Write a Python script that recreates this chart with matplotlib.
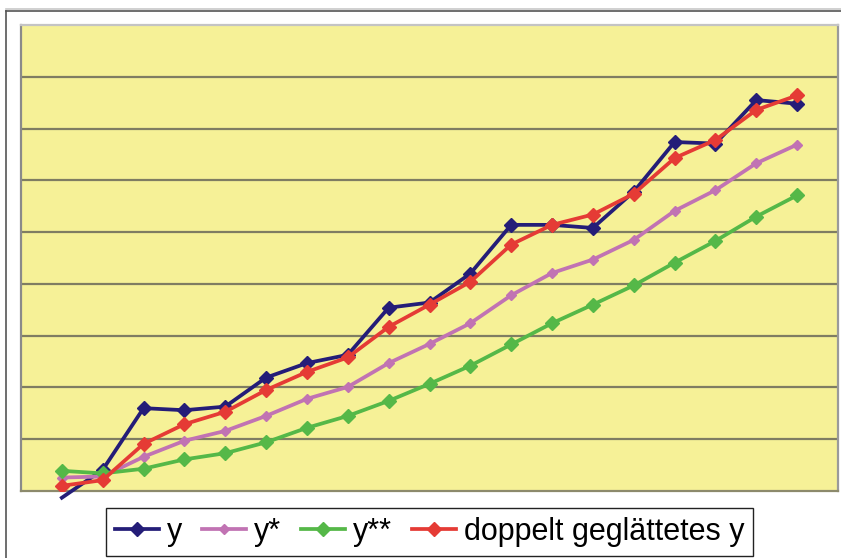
import matplotlib
matplotlib.use("Agg")
import matplotlib.pyplot as plt
from matplotlib.lines import Line2D
import numpy as np

# Periods and series values
periods = list(range(1, 20))
y = [-1.3, 4.1, 16.0, 15.6, 16.3, 21.9, 24.7, 26.3, 35.4, 36.4,
     42.0, 51.4, 51.4, 50.8, 57.8, 67.4, 67.1, 75.5, 74.8]
y_star = [2.6, 2.8, 6.6, 9.7, 11.6, 14.5, 17.8, 20.1, 24.7, 28.4,
          32.4, 37.8, 42.1, 44.7, 48.5, 54.1, 58.1, 63.3, 66.9]
y_2star = [3.9, 3.4, 4.3, 6.1, 7.3, 9.4, 12.2, 14.5, 17.4, 20.7,
           24.2, 28.3, 32.4, 36.0, 39.7, 44.1, 48.3, 53.0, 57.1]
y_double = [1.0, 2.1, 9.1, 12.9, 15.3, 19.5, 23.0, 25.8, 31.7, 36.0,
            40.4, 47.6, 51.4, 53.4, 57.4, 64.3, 67.8, 73.6, 76.4]
labels = ["y", "y*", "y**", "doppelt geglättetes y"]

W, H = 841, 558
fig = plt.figure(figsize=(W / 100, H / 100), dpi=100)
fig.patch.set_facecolor("white")

# outer chart frame (top and left edges)
fig.add_artist(Line2D([6 / W, 1], [1 - 9 / H, 1 - 9 / H], color="#c8c8c8", lw=1.2))
fig.add_artist(Line2D([6 / W, 1], [1 - 10.5 / H, 1 - 10.5 / H], color="#555555", lw=1.2))
fig.add_artist(Line2D([6 / W, 6 / W], [0, 1 - 10.5 / H], color="#555555", lw=1.2))

left, right, top, bottom = 21, 838, 25, 491
ax = fig.add_axes([left / W, 1 - bottom / H, (right - left) / W, (bottom - top) / H])
ax.set_facecolor("#f6f197")
ax.set_xlim(0, 20)
ax.set_ylim(0, 90)
ax.set_yticks(np.arange(10, 90, 10))
ax.set_xticks([])
ax.tick_params(left=False, labelleft=False)
ax.grid(axis="y", color="#7f7d62", lw=1.6)
ax.set_axisbelow(True)
ax.spines["top"].set_color("#c4c4c4")
ax.spines["left"].set_color("#8a8a8a")
ax.spines["right"].set_color("#9a9a9a")
ax.spines["bottom"].set_color("#8c8a6c")
for s in ax.spines.values():
    s.set_linewidth(1.6)

c_y, c_ys, c_yss, c_yd = "#241d78", "#c173b3", "#55b848", "#e53b35"
lw = 2.7
ms_y, ms_ys, ms_yss, ms_yd = 6.8, 4.8, 6.8, 7.4

# y: the line runs below the plot floor at the first period, markers stay inside
ax.plot(periods, y, color=c_y, lw=lw, clip_on=False, zorder=3)
ax.plot(periods[1:], y[1:], ls="none", marker="D", ms=ms_y, color=c_y, zorder=3)
ax.plot(periods, y_star, color=c_ys, lw=lw, marker="D", ms=ms_ys, zorder=3)
ax.plot(periods, y_2star, color=c_yss, lw=lw, marker="D", ms=ms_yss, zorder=3)
ax.plot(periods, y_double, color=c_yd, lw=lw, marker="D", ms=ms_yd, zorder=4)

handles = [
    Line2D([], [], color=c_y, lw=lw, marker="D", ms=ms_y),
    Line2D([], [], color=c_ys, lw=lw, marker="D", ms=ms_ys),
    Line2D([], [], color=c_yss, lw=lw, marker="D", ms=ms_yss),
    Line2D([], [], color=c_yd, lw=lw, marker="D", ms=ms_yd),
]
leg = fig.legend(handles, labels, loc="center", ncol=4,
                 bbox_to_anchor=(429.5 / W, 1 - 532 / H),
                 prop={"family": "Liberation Sans", "size": 22},
                 frameon=True, fancybox=False, framealpha=1,
                 edgecolor="#222222", handlelength=1.45, handletextpad=0.25,
                 columnspacing=0.65, borderpad=0.28, borderaxespad=0)
leg.get_frame().set_linewidth(1.0)

fig.savefig("out.png", dpi=100, facecolor="white")
